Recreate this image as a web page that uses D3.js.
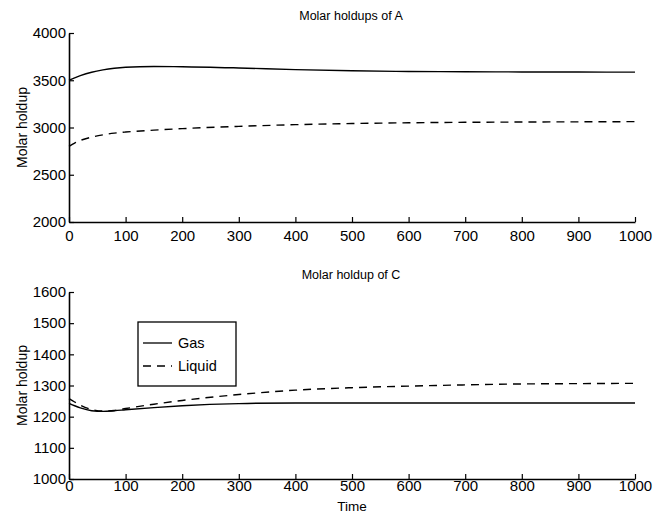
<!DOCTYPE html>
<html>
<head>
<meta charset="utf-8">
<script src="https://cdn.jsdelivr.net/npm/d3@7"></script>
<style>
  body { margin: 0; background: #fff; }
  svg { font-family: "Liberation Sans", Arial, sans-serif; }
</style>
</head>
<body>
<div id="chart"></div>
<script>
// time samples
var timeA = [0, 10, 20, 40, 60, 80, 100, 150, 200, 300, 400, 500, 600, 700, 800, 900, 1000]
var gasA = [3500, 3525, 3548, 3585, 3610, 3627, 3637, 3645, 3643, 3630, 3612, 3600, 3593, 3590, 3588, 3587, 3586]
var liquidA = [2800, 2835, 2863, 2898, 2922, 2940, 2952, 2972, 2988, 3012, 3030, 3042, 3050, 3055, 3058, 3060, 3062]

var timeC = [0, 10, 20, 40, 60, 80, 100, 150, 200, 300, 400, 500, 600, 700, 800, 900, 1000]
var gasC = [1243, 1235, 1228, 1219, 1217, 1219, 1222, 1229, 1235, 1242, 1244, 1244, 1244, 1244, 1244, 1244, 1244]
var liquidC = [1258, 1247, 1237, 1223, 1218, 1220, 1226, 1240, 1252, 1271, 1285, 1293, 1298, 1302, 1305, 1306, 1307]

var xTicks = [0, 100, 200, 300, 400, 500, 600, 700, 800, 900, 1000]
var yTicksA = [2000, 2500, 3000, 3500, 4000]
var yTicksC = [1000, 1100, 1200, 1300, 1400, 1500, 1600]

var W = 665, H = 516

var svg = d3.select("#chart").append("svg")
    .attr("width", W)
    .attr("height", H)

function drawPanel(cfg) {
    var x = d3.scaleLinear().domain([0, 1000]).range([69, 635])
    var y = d3.scaleLinear().domain(cfg.ydom).range([cfg.bottom, cfg.top])

    var g = svg.append("g")

    // x axis, ticks pointing inward
    var xa = g.append("g")
        .attr("transform", "translate(0," + cfg.bottom + ")")
        .call(d3.axisBottom(x).tickValues(xTicks).tickFormat(d3.format("d"))
            .tickSizeInner(-5).tickSizeOuter(0).tickPadding(cfg.xpad))
    // y axis
    var ya = g.append("g")
        .attr("transform", "translate(69,0)")
        .call(d3.axisLeft(y).tickValues(cfg.yticks).tickFormat(d3.format("d"))
            .tickSizeInner(-5).tickSizeOuter(0).tickPadding(3))

    ;[xa, ya].forEach(function (a) {
        a.select(".domain").attr("stroke", "#000").attr("stroke-width", 1.6)
        a.selectAll(".tick line").attr("stroke", "#000").attr("stroke-width", 1.2)
        a.selectAll(".tick text").attr("fill", "#000").style("font-size", "15px")
    })

    g.append("text")
        .attr("x", 351).attr("y", cfg.top - 13)
        .attr("text-anchor", "middle")
        .style("font-size", "12.5px")
        .text(cfg.title)

    g.append("text")
        .attr("transform", "translate(27," + (cfg.top + cfg.bottom) / 2 + ") rotate(-90)")
        .attr("text-anchor", "middle")
        .style("font-size", "14px")
        .text("Molar holdup")

    var line = d3.line()
        .x(function (d) { return x(d[0]) })
        .y(function (d) { return y(d[1]) })
        .curve(d3.curveMonotoneX)

    g.append("path")
        .datum(d3.zip(cfg.t, cfg.gas))
        .attr("d", line)
        .attr("fill", "none")
        .attr("stroke", "#000")
        .attr("stroke-width", 1.4)

    g.append("path")
        .datum(d3.zip(cfg.t, cfg.liquid))
        .attr("d", line)
        .attr("fill", "none")
        .attr("stroke", "#000")
        .attr("stroke-width", 1.4)
        .attr("stroke-dasharray", "8,6")
}

drawPanel({ ydom: [2000, 4000], top: 33, bottom: 222, yticks: yTicksA, xpad: 8,
    t: timeA, gas: gasA, liquid: liquidA, title: "Molar holdups of A" })
drawPanel({ ydom: [1000, 1600], top: 292, bottom: 479, yticks: yTicksC, xpad: 1,
    t: timeC, gas: gasC, liquid: liquidC, title: "Molar holdup of C" })

svg.append("text")
    .attr("x", 352).attr("y", 511)
    .attr("text-anchor", "middle")
    .style("font-size", "13.5px")
    .text("Time")

// legend
var leg = svg.append("g").attr("transform", "translate(138,322)")
leg.append("rect")
    .attr("width", 98).attr("height", 64)
    .attr("fill", "#fff").attr("stroke", "#000").attr("stroke-width", 1.3)
var items = [["Gas", null], ["Liquid", "8,6"]]
items.forEach(function (it, i) {
    var yy = 21 + i * 23
    leg.append("line")
        .attr("x1", 5).attr("x2", 34).attr("y1", yy).attr("y2", yy)
        .attr("stroke", "#000").attr("stroke-width", 1.3)
        .attr("stroke-dasharray", it[1])
    leg.append("text")
        .attr("x", 40).attr("y", yy + 5)
        .style("font-size", "14.5px")
        .text(it[0])
})
</script>
</body>
</html>
